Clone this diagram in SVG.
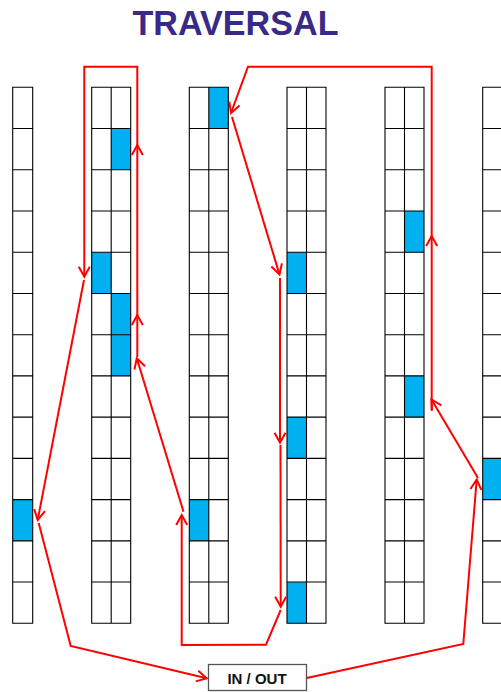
<svg xmlns="http://www.w3.org/2000/svg" xmlns:xlink="http://www.w3.org/1999/xlink" width="501" height="692" viewBox="0 0 501 692">
<style>
.title{font-family:"Liberation Sans",Arial,sans-serif;font-weight:bold;font-size:35px;fill:#3A2A87}
.grid{fill:none;stroke:#000;stroke-width:1.1}
.cell{fill:#00B0F0}
.box{fill:#fff;stroke:#555;stroke-width:1.3}
.lbl{font-family:"Liberation Sans",Arial,sans-serif;font-weight:bold;font-size:15px;fill:#111}
.conn{fill:none;stroke:#FF0000;stroke-width:2;stroke-linejoin:miter}
</style>
<defs>
<marker id="ah" markerUnits="userSpaceOnUse" markerWidth="14" markerHeight="14" viewBox="-12 -7 14 14" refX="0" refY="0" orient="auto" overflow="visible">
<path d="M-10,-5.5 L0,0 L-10,5.5" fill="none" stroke="#FF0000" stroke-width="2"/>
</marker>
<path id="dbl" class="grid" d="M0,0 H39 V536 H0 Z M19.5,0 V536 M0,41.23 H39 M0,82.46 H39 M0,123.69 H39 M0,164.92 H39 M0,206.15 H39 M0,247.38 H39 M0,288.61 H39 M0,329.84 H39 M0,371.07 H39 M0,412.3 H39 M0,453.53 H39 M0,494.76 H39"/>
<path id="sgl" class="grid" d="M0,0 H20 V536 H0 Z M0,41.23 H20 M0,82.46 H20 M0,123.69 H20 M0,164.92 H20 M0,206.15 H20 M0,247.38 H20 M0,288.61 H20 M0,329.84 H20 M0,371.07 H20 M0,412.3 H20 M0,453.53 H20 M0,494.76 H20"/>
</defs>
<rect width="501" height="692" fill="#fff"/>
<text class="title" x="235.5" y="35" text-anchor="middle" textLength="206" lengthAdjust="spacingAndGlyphs">TRAVERSAL</text>

<g id="rack1" transform="translate(12.7,87.3)">
<rect class="cell" x="0" y="412.3" width="20" height="41.23"/>
<use xlink:href="#sgl"/>
</g>
<g id="rack2" transform="translate(91.7,87.3)">
<rect class="cell" x="19.5" y="41.23" width="19.5" height="41.23"/>
<rect class="cell" x="0" y="164.92" width="19.5" height="41.23"/>
<rect class="cell" x="19.5" y="206.15" width="19.5" height="41.23"/>
<rect class="cell" x="19.5" y="247.38" width="19.5" height="41.23"/>
<use xlink:href="#dbl"/>
</g>
<g id="rack3" transform="translate(189.3,87.3)">
<rect class="cell" x="19.5" y="0" width="19.5" height="41.23"/>
<rect class="cell" x="0" y="412.3" width="19.5" height="41.23"/>
<use xlink:href="#dbl"/>
</g>
<g id="rack4" transform="translate(287,87.3)">
<rect class="cell" x="0" y="164.92" width="19.5" height="41.23"/>
<rect class="cell" x="0" y="329.84" width="19.5" height="41.23"/>
<rect class="cell" x="0" y="494.76" width="19.5" height="41.23"/>
<use xlink:href="#dbl"/>
</g>
<g id="rack5" transform="translate(385,87.3)">
<rect class="cell" x="19.5" y="123.69" width="19.5" height="41.23"/>
<rect class="cell" x="19.5" y="288.61" width="19.5" height="41.23"/>
<use xlink:href="#dbl"/>
</g>
<g id="rack6" transform="translate(482.7,87.3)">
<rect class="cell" x="0" y="371.07" width="19.5" height="41.23"/>
<use xlink:href="#dbl"/>
</g>

<g id="inout">
<rect class="box" x="208.5" y="664.5" width="98" height="26"/>
<text class="lbl" x="257" y="683.5" text-anchor="middle">IN / OUT</text>
</g>

<g id="connectors">
<polyline class="conn" marker-end="url(#ah)" points="306.7,678 463.3,644 476.7,479.5"/>
<polyline class="conn" marker-end="url(#ah)" points="478,478 431.5,399.5"/>
<polyline class="conn" marker-end="url(#ah)" points="431.7,410 431.7,236"/>
<polyline class="conn" marker-end="url(#ah)" points="431.7,238 431.7,66.7 248,66.7 231,113"/>
<polyline class="conn" marker-end="url(#ah)" points="232,117 279.5,274.5"/>
<polyline class="conn" marker-end="url(#ah)" points="280,278 280,442.7"/>
<polyline class="conn" marker-end="url(#ah)" points="280.5,445 280.7,606.7"/>
<polyline class="conn" marker-end="url(#ah)" points="280.7,610 266,644.7 181.7,645 181.7,515"/>
<polyline class="conn" marker-end="url(#ah)" points="183.5,511.7 136.8,358.3"/>
<polyline class="conn" marker-end="url(#ah)" points="137.3,357 137.3,315"/>
<polyline class="conn" marker-end="url(#ah)" points="137.3,317 137.3,145"/>
<polyline class="conn" marker-end="url(#ah)" points="137.3,147 137.3,66.7 84.3,66.7 84.3,276.7"/>
<polyline class="conn" marker-end="url(#ah)" points="84,280 37.7,520"/>
<polyline class="conn" marker-end="url(#ah)" points="38.7,523 70.7,646 206.7,678.3"/>
</g>
</svg>
